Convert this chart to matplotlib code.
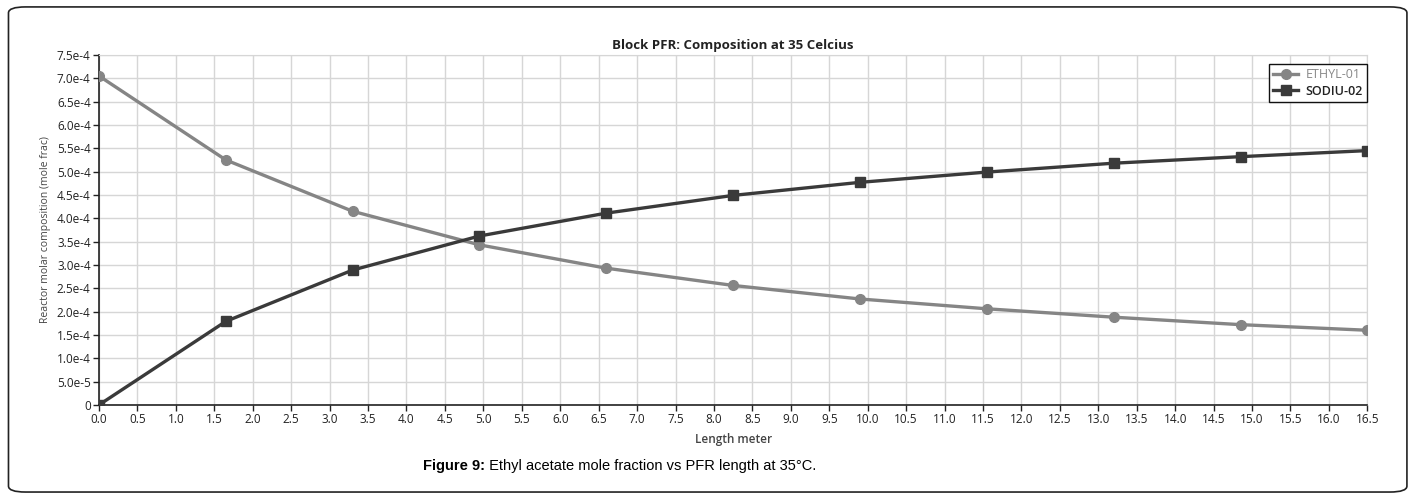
import matplotlib
matplotlib.use("Agg")
import matplotlib.pyplot as plt
from matplotlib.patches import FancyBboxPatch
from matplotlib.ticker import FuncFormatter, MultipleLocator

# reactor length (m) and mole fractions
length = [0.0, 1.65, 3.3, 4.95, 6.6, 8.25, 9.9, 11.55, 13.2, 14.85, 16.5]
ethyl = [7.05e-4, 5.25e-4, 4.15e-4, 3.43e-4, 2.93e-4, 2.56e-4,
         2.27e-4, 2.06e-4, 1.88e-4, 1.72e-4, 1.60e-4]
sodiu = [0.0, 1.79e-4, 2.89e-4, 3.62e-4, 4.11e-4, 4.49e-4,
         4.77e-4, 4.99e-4, 5.18e-4, 5.32e-4, 5.45e-4]
series_names = ["ETHYL-01", "SODIU-02"]

plt.rcParams["font.family"] = ["Open Sans", "DejaVu Sans"]

fig = plt.figure(figsize=(14.14, 4.95), dpi=100)

# outer rounded frame
frame = FancyBboxPatch((0.006, 0.006), 0.989, 0.980,
                       boxstyle="round,pad=0,rounding_size=0.012",
                       transform=fig.transFigure, fill=False,
                       edgecolor="#222222", linewidth=1.2)
fig.patches.append(frame)

ax = fig.add_axes([0.070, 0.182, 0.897, 0.707])

ax.plot(length, ethyl, color="#858585", lw=2.4, marker="o", ms=7,
        label=series_names[0], zorder=3)
ax.plot(length, sodiu, color="#3a3a3a", lw=2.4, marker="s", ms=7,
        label=series_names[1], zorder=4)

ax.set_xlim(0, 16.5)
ax.set_ylim(0, 7.5e-4)
ax.xaxis.set_major_locator(MultipleLocator(0.5))
ax.yaxis.set_major_locator(MultipleLocator(5e-5))
ax.xaxis.set_major_formatter(FuncFormatter(lambda v, p: f"{v:.1f}"))


def yfmt(v, p):
    if abs(v) < 1e-12:
        return "0"
    s = f"{v:.1e}"
    mant, exp = s.split("e")
    return f"{mant}e{int(exp)}"


ax.yaxis.set_major_formatter(FuncFormatter(yfmt))
ax.tick_params(labelsize=8.5, colors="#222222", length=4, width=1, pad=2)
ax.grid(True, color="#d6d6d6", lw=1)
ax.set_axisbelow(True)
for s in ["top", "right"]:
    ax.spines[s].set_color("#d6d6d6")
for s in ["left", "bottom"]:
    ax.spines[s].set_color("#222222")
    ax.spines[s].set_linewidth(1.2)

ax.set_title("Block PFR: Composition at 35 Celcius", fontsize=9.5,
             fontweight="bold", color="#222222", pad=4)
ax.set_xlabel("Length meter", fontsize=8.5, fontweight="semibold",
              color="#444444", labelpad=5)
ax.set_ylabel("Reactor molar composition (mole frac)", fontsize=7.5,
              color="#444444", labelpad=4)

leg = ax.legend(loc="upper right", bbox_to_anchor=(1.0, 0.974), fontsize=9,
                frameon=True, fancybox=False, edgecolor="#111111",
                framealpha=1, handlelength=2.0, borderpad=0.35,
                labelspacing=0.25, handletextpad=0.6, borderaxespad=0)
leg.get_frame().set_linewidth(1)
leg.get_texts()[0].set_color("#888888")
leg.get_texts()[1].set_color("#222222")
leg.get_texts()[1].set_fontweight("semibold")

fig.text(0.343, 0.059, "Figure 9:", fontsize=10.5, fontweight="bold",
         family=["Liberation Sans Narrow", "Liberation Sans"],
         ha="right", va="center")
fig.text(0.343, 0.059, " Ethyl acetate mole fraction vs PFR length at 35°C.",
         fontsize=10.5, family=["Liberation Sans Narrow", "Liberation Sans"],
         ha="left", va="center")

fig.savefig("out.png", dpi=100)
